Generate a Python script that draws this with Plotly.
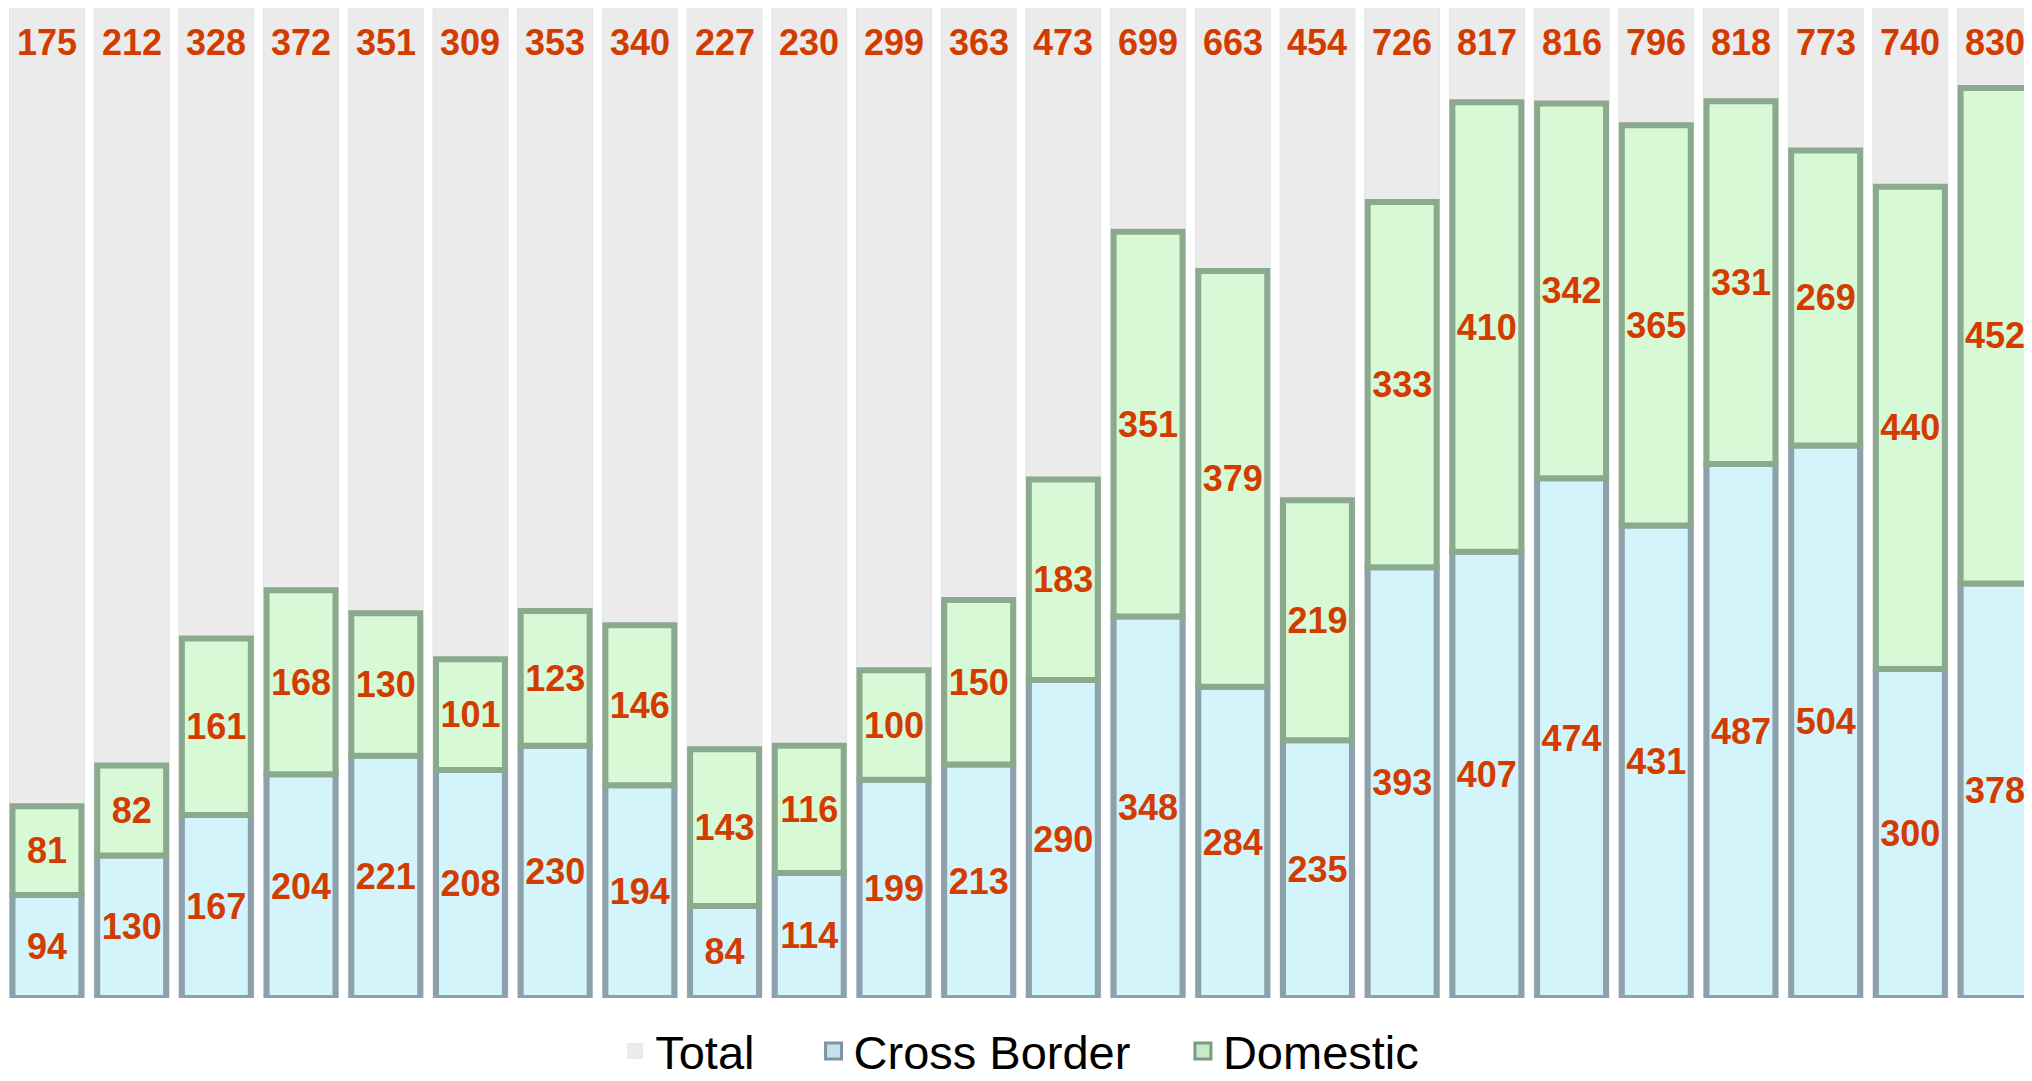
import plotly.graph_objects as go

periods = [str(i) for i in range(1, 25)]
totals = [175, 212, 328, 372, 351, 309, 353, 340, 227, 230, 299, 363,
          473, 699, 663, 454, 726, 817, 816, 796, 818, 773, 740, 830]
cross_border = [94, 130, 167, 204, 221, 208, 230, 194, 84, 114, 199, 213,
                290, 348, 284, 235, 393, 407, 474, 431, 487, 504, 300, 378]
domestic = [81, 82, 161, 168, 130, 101, 123, 146, 143, 116, 100, 150,
            183, 351, 379, 219, 333, 410, 342, 365, 331, 269, 440, 452]
series_names = ["Total", "Cross Border", "Domestic"]

Y_TOP = 903
BAR_W = 0.884
LINE_W = 6
LABEL_COLOR = "#D23C00"
LABEL_FONT = dict(family="Liberation Sans, Arial, sans-serif", size=36, color=LABEL_COLOR)

GREY = "#EBEBEB"
BLUE_FILL, BLUE_EDGE = "#D3F4FB", "#8DA1AD"
GREEN_FILL, GREEN_EDGE = "#D8F9D6", "#8BAA8D"

fig = go.Figure()

# grey background "Total" columns spanning the full height
fig.add_trace(go.Bar(
    x=periods, y=[Y_TOP] * len(periods), name=series_names[0], width=BAR_W,
    marker=dict(color=GREY, line=dict(color="#E4E4E4", width=1)),
    hoverinfo="skip", showlegend=False,
))

fig.add_trace(go.Bar(
    x=periods, y=cross_border, name=series_names[1], width=BAR_W - 0.07,
    marker=dict(color=BLUE_FILL, line=dict(color=BLUE_EDGE, width=LINE_W)),
    text=cross_border, texttemplate="<b>%{text}</b>",
    textposition="inside", insidetextanchor="middle",
    textangle=0, textfont=LABEL_FONT, showlegend=False,
))

fig.add_trace(go.Bar(
    x=periods, y=domestic, base=cross_border, name=series_names[2], width=BAR_W - 0.07,
    marker=dict(color=GREEN_FILL, line=dict(color=GREEN_EDGE, width=LINE_W)),
    text=domestic, texttemplate="<b>%{text}</b>",
    textposition="inside", insidetextanchor="middle",
    textangle=0, textfont=LABEL_FONT, showlegend=False,
))

# legend entries (larger square swatches)
legend_styles = [
    (GREY, GREY, 0),
    ("#C4E2EE", "#7F929E", 3),
    ("#C9EAC7", "#7E9A80", 3),
]
legend_ids = ["legend", "legend2", "legend3"]
for name, (fill, edge, lw), lid in zip(series_names, legend_styles, legend_ids):
    fig.add_trace(go.Scatter(
        x=[None], y=[None], mode="markers", name=name, legend=lid,
        marker=dict(symbol="square", size=16, color=fill, line=dict(color=edge, width=lw)),
        showlegend=True, hoverinfo="skip",
    ))

annotations = [
    dict(x=i, y=1, xref="x", yref="paper", yanchor="middle", yshift=-34,
         text=f"<b>{t}</b>", showarrow=False, font=LABEL_FONT)
    for i, t in enumerate(totals)
]

legend_font = dict(family="Liberation Sans, Arial, sans-serif", size=47, color="black")
def legend_at(xpos):
    return dict(orientation="h", x=xpos, xanchor="left", y=-0.054, yanchor="middle",
                font=legend_font, itemclick=False, itemsizing="trace",
                bgcolor="rgba(0,0,0,0)")

n = len(periods)
fig.update_layout(
    width=2024, height=1073,
    margin=dict(l=0, r=0, t=0, b=83, autoexpand=False),
    paper_bgcolor="white", plot_bgcolor="white",
    barmode="overlay",
    uniformtext=dict(minsize=36, mode="show"),
    annotations=annotations,
    xaxis=dict(visible=False, range=[-0.460, -0.460 + 2024 / 84.7]),
    yaxis=dict(visible=False, range=[0, Y_TOP]),
    showlegend=True,
    legend=legend_at(0.300),
    legend2=legend_at(0.398),
    legend3=legend_at(0.5805),
)

fig.write_html("out.html")
